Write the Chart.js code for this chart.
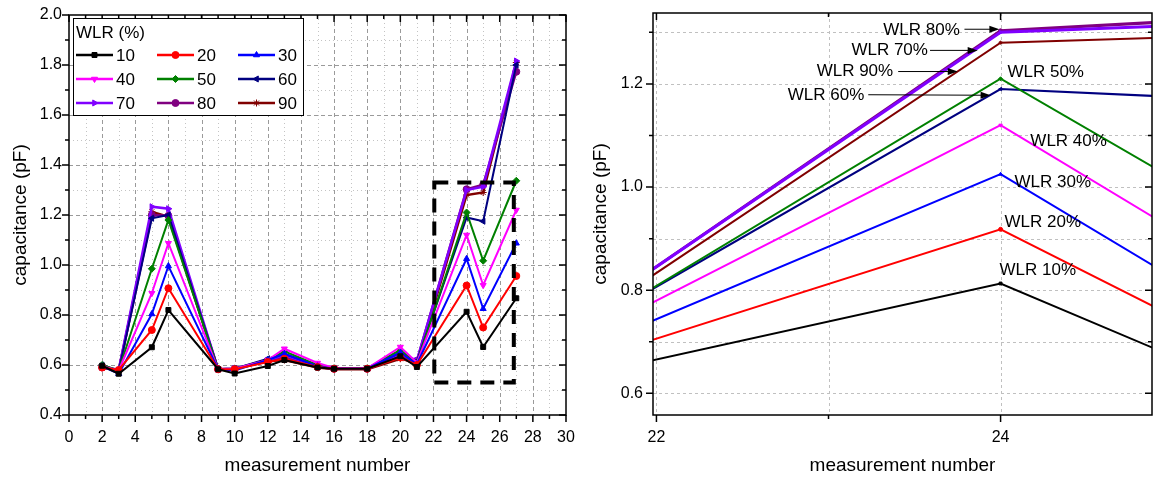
<!DOCTYPE html>
<html>
<head>
<meta charset="utf-8">
<script src="https://cdn.jsdelivr.net/npm/chart.js@4/dist/chart.umd.min.js"></script>
<style>
  body { margin: 0; background: #fff; }
  canvas { position: absolute; top: 0; }
  #left { left: 0; }
  #right { left: 580px; }
</style>
</head>
<body>
<canvas id="left" width="580" height="480"></canvas>
<canvas id="right" width="577" height="480"></canvas>
<script>
// measurement numbers on the x axis
const measurements = [2, 3, 5, 6, 9, 10, 12, 13, 15, 16, 18, 20, 21, 24, 25, 27];

// capacitance (pF) per WLR level
const wlr10 = [0.597, 0.565, 0.671, 0.820, 0.583, 0.566, 0.596, 0.620, 0.590, 0.585, 0.585, 0.635, 0.592, 0.813, 0.672, 0.867];
const wlr20 = [0.590, 0.580, 0.740, 0.907, 0.583, 0.583, 0.612, 0.625, 0.592, 0.585, 0.585, 0.630, 0.600, 0.918, 0.750, 0.956];
const wlr30 = [0.595, 0.565, 0.804, 0.996, 0.583, 0.578, 0.620, 0.645, 0.595, 0.585, 0.585, 0.650, 0.603, 1.025, 0.825, 1.087];
const wlr40 = [0.595, 0.578, 0.887, 1.087, 0.583, 0.585, 0.620, 0.665, 0.608, 0.588, 0.587, 0.672, 0.610, 1.120, 0.919, 1.220];
const wlr50 = [0.600, 0.578, 0.985, 1.180, 0.583, 0.585, 0.620, 0.655, 0.600, 0.587, 0.587, 0.660, 0.608, 1.210, 1.017, 1.337];
const wlr60 = [0.600, 0.575, 1.187, 1.200, 0.583, 0.585, 0.625, 0.645, 0.598, 0.587, 0.587, 0.650, 0.615, 1.190, 1.175, 1.800];
const wlr70 = [0.595, 0.580, 1.233, 1.225, 0.583, 0.585, 0.620, 0.640, 0.597, 0.585, 0.585, 0.645, 0.618, 1.300, 1.313, 1.816];
const wlr80 = [0.590, 0.578, 1.200, 1.197, 0.583, 0.585, 0.615, 0.632, 0.593, 0.585, 0.585, 0.635, 0.617, 1.303, 1.321, 1.773];
const wlr90 = [0.590, 0.578, 1.213, 1.193, 0.583, 0.585, 0.615, 0.620, 0.590, 0.583, 0.583, 0.625, 0.610, 1.280, 1.290, 1.810];

const seriesValues = [wlr10, wlr20, wlr30, wlr40, wlr50, wlr60, wlr70, wlr80, wlr90];
const seriesNames = ['10', '20', '30', '40', '50', '60', '70', '80', '90'];
const seriesColors = ['#000000', '#ff0000', '#0000ff', '#ff00ff', '#008000', '#000080', '#8000ff', '#800080', '#800000'];
const seriesMarkers = ['rect', 'circle', 'triangle', 'triangle', 'rectRot', 'triangle', 'triangle', 'circle', 'star'];
const markerRotation = [0, 0, 0, 180, 0, -90, 90, 0, 0];

// tick labels
const leftXTicks = [0, 2, 4, 6, 8, 10, 12, 14, 16, 18, 20, 22, 24, 26, 28, 30];
const leftYTicks = [0.4, 0.6, 0.8, 1.0, 1.2, 1.4, 1.6, 1.8, 2.0];
const zoomXTicks = [22, 24];
const zoomYTicks = [0.6, 0.8, 1.0, 1.2];

// dashed box marking the zoomed region (data units)
const zoomBox = { x1: 22.05, x2: 26.85, y1: 0.53, y2: 1.33 };

// labels in the zoomed panel (data units, text starts at x)
const zoomLabels = [
  { text: 'WLR 80%', x: 23.318, y: 1.304 },
  { text: 'WLR 70%', x: 23.133, y: 1.266 },
  { text: 'WLR 90%', x: 22.931, y: 1.224 },
  { text: 'WLR 60%', x: 22.763, y: 1.177 },
  { text: 'WLR 50%', x: 24.040, y: 1.222 },
  { text: 'WLR 40%', x: 24.173, y: 1.088 },
  { text: 'WLR 30%', x: 24.081, y: 1.010 },
  { text: 'WLR 20%', x: 24.023, y: 0.932 },
  { text: 'WLR 10%', x: 23.994, y: 0.838 }
];
const zoomArrows = [
  { x1: 23.790, y1: 1.306, x2: 23.993, y2: 1.306 },
  { x1: 23.590, y1: 1.265, x2: 23.867, y2: 1.265 },
  { x1: 23.405, y1: 1.224, x2: 23.751, y2: 1.224 },
  { x1: 23.231, y1: 1.179, x2: 23.942, y2: 1.178 }
];

const FONT = '"Liberation Sans", Arial, sans-serif';
Chart.defaults.font.family = FONT;
Chart.defaults.color = '#000';
Chart.defaults.animation = false;

function makeDatasets(lineWidths, radius) {
  return seriesValues.map((vals, i) => ({
    label: seriesNames[i],
    data: measurements.map((m, j) => ({ x: m, y: vals[j] })),
    borderColor: seriesColors[i],
    backgroundColor: seriesColors[i],
    pointBackgroundColor: seriesColors[i],
    pointBorderColor: seriesColors[i],
    borderWidth: lineWidths[i],
    pointStyle: seriesMarkers[i],
    rotation: markerRotation[i],
    pointRadius: radius,
    pointBorderWidth: 1,
    tension: 0
  }));
}

function range(a, b, step) {
  const out = [];
  for (let v = a; v <= b + 1e-9; v += step) out.push(Math.round(v * 1000) / 1000);
  return out;
}

// gridlines, frame and ticks on all four sides
const framePlugin = {
  id: 'frame',
  beforeDatasetsDraw(chart, args, o) {
    const { ctx, chartArea: a, scales: { x, y } } = chart;
    ctx.save();
    ctx.lineWidth = 1;
    const vline = v => { const p = Math.round(x.getPixelForValue(v)) + 0.5; ctx.beginPath(); ctx.moveTo(p, a.top); ctx.lineTo(p, a.bottom); ctx.stroke(); };
    const hline = v => { const p = Math.round(y.getPixelForValue(v)) + 0.5; ctx.beginPath(); ctx.moveTo(a.left, p); ctx.lineTo(a.right, p); ctx.stroke(); };
    ctx.strokeStyle = o.minorColor; ctx.setLineDash([1, 3]);
    o.xMinorGrid.forEach(vline); o.yMinorGrid.forEach(hline);
    ctx.strokeStyle = o.majorColor; ctx.setLineDash(o.majorDash);
    o.xMajorGrid.forEach(vline); o.yMajorGrid.forEach(hline);
    ctx.restore();
  },
  afterDatasetsDraw(chart, args, o) {
    const { ctx, chartArea: a, scales: { x, y } } = chart;
    ctx.save();
    ctx.strokeStyle = '#000';
    ctx.lineWidth = 1.5;
    ctx.strokeRect(a.left, a.top, a.right - a.left, a.bottom - a.top);
    const tick = (vals, len) => {
      vals.forEach(v => {
        const p = x.getPixelForValue(v);
        if (p < a.left - 1 || p > a.right + 1) return;
        ctx.beginPath(); ctx.moveTo(p, a.bottom); ctx.lineTo(p, a.bottom + len);
        ctx.moveTo(p, a.top); ctx.lineTo(p, a.top + len); ctx.stroke();
      });
    };
    const ytick = (vals, len) => {
      vals.forEach(v => {
        const p = y.getPixelForValue(v);
        if (p < a.top - 1 || p > a.bottom + 1) return;
        ctx.beginPath(); ctx.moveTo(a.left, p); ctx.lineTo(a.left - len, p);
        ctx.moveTo(a.right, p); ctx.lineTo(a.right - len, p); ctx.stroke();
      });
    };
    tick(o.xMajor, 7); tick(o.xMinor, 4);
    ytick(o.yMajor, 7); ytick(o.yMinor, 4);
    ctx.restore();
  }
};

const boxPlugin = {
  id: 'zoomBox',
  afterDatasetsDraw(chart) {
    const { ctx, scales: { x, y } } = chart;
    const l = x.getPixelForValue(zoomBox.x1), r = x.getPixelForValue(zoomBox.x2);
    const t = y.getPixelForValue(zoomBox.y2), b = y.getPixelForValue(zoomBox.y1);
    ctx.save();
    ctx.strokeStyle = '#000';
    ctx.lineWidth = 4;
    ctx.setLineDash([14, 9]);
    ctx.strokeRect(l, t, r - l, b - t);
    ctx.restore();
  }
};

const legendPlugin = {
  id: 'wlrLegend',
  afterDraw(chart) {
    const { ctx, chartArea: a } = chart;
    const x0 = a.left + 4, y0 = a.top + 3;
    ctx.save();
    ctx.fillStyle = '#fff';
    ctx.fillRect(x0, y0, 230, 97);
    ctx.strokeStyle = '#000';
    ctx.lineWidth = 1;
    ctx.strokeRect(x0 + 0.5, y0 + 0.5, 230, 97);
    ctx.font = '17px ' + FONT;
    ctx.fillStyle = '#000';
    ctx.textBaseline = 'middle';
    ctx.fillText('WLR (%)', x0 + 3, y0 + 15);
    chart.data.datasets.forEach((ds, i) => {
      const col = i % 3, row = Math.floor(i / 3);
      const lx = x0 + 3 + col * 81, ly = y0 + 37 + row * 24;
      ctx.strokeStyle = ds.borderColor;
      ctx.fillStyle = ds.borderColor;
      ctx.lineWidth = 2.5;
      ctx.setLineDash([]);
      ctx.beginPath(); ctx.moveTo(lx, ly); ctx.lineTo(lx + 37, ly); ctx.stroke();
      ctx.lineWidth = 1;
      Chart.helpers.drawPoint(ctx, { pointStyle: ds.pointStyle, rotation: ds.rotation, radius: 3.5, borderWidth: 1 }, lx + 18.5, ly);
      ctx.fillStyle = '#000';
      ctx.fillText(ds.label, lx + 40, ly + 1);
    });
    ctx.restore();
  }
};

const labelPlugin = {
  id: 'zoomLabels',
  afterDatasetsDraw(chart) {
    const { ctx, scales: { x, y } } = chart;
    ctx.save();
    ctx.font = '17px ' + FONT;
    ctx.fillStyle = '#000';
    ctx.textBaseline = 'middle';
    zoomLabels.forEach(l => ctx.fillText(l.text, x.getPixelForValue(l.x), y.getPixelForValue(l.y)));
    ctx.strokeStyle = '#000';
    ctx.lineWidth = 1;
    zoomArrows.forEach(ar => {
      const x1 = x.getPixelForValue(ar.x1), y1 = y.getPixelForValue(ar.y1);
      const x2 = x.getPixelForValue(ar.x2), y2 = y.getPixelForValue(ar.y2);
      const ang = Math.atan2(y2 - y1, x2 - x1);
      ctx.beginPath(); ctx.moveTo(x1, y1); ctx.lineTo(x2 - 8 * Math.cos(ang), y2 - 8 * Math.sin(ang)); ctx.stroke();
      ctx.beginPath();
      ctx.moveTo(x2, y2);
      ctx.lineTo(x2 - 10 * Math.cos(ang) + 3.5 * Math.sin(ang), y2 - 10 * Math.sin(ang) - 3.5 * Math.cos(ang));
      ctx.lineTo(x2 - 10 * Math.cos(ang) - 3.5 * Math.sin(ang), y2 - 10 * Math.sin(ang) + 3.5 * Math.cos(ang));
      ctx.closePath(); ctx.fill();
    });
    ctx.restore();
  }
};

function axisX(min, max, ticks, height) {
  return {
    type: 'linear', min, max,
    afterBuildTicks: s => { s.ticks = ticks.map(v => ({ value: v })); },
    afterFit: s => { s.height = height; s.paddingLeft = 0; s.paddingRight = 0; },
    grid: { display: false, drawTicks: false },
    border: { display: false },
    ticks: { font: { size: 16 }, padding: 13, maxRotation: 0, autoSkip: false, callback: v => String(v) },
    title: { display: true, text: 'measurement number', font: { size: 19 }, padding: { top: 0, bottom: 3 } }
  };
}

function axisY(min, max, ticks, width, pad) {
  return {
    type: 'linear', min, max,
    afterBuildTicks: s => { s.ticks = ticks.map(v => ({ value: v })); },
    afterFit: s => { s.width = width; s.paddingTop = 0; s.paddingBottom = 0; },
    grid: { display: false, drawTicks: false },
    border: { display: false },
    ticks: { font: { size: 16 }, padding: pad, callback: v => v.toFixed(1) },
    title: { display: true, text: 'capacitance (pF)', font: { size: 19 }, padding: { top: 9, bottom: 0 } }
  };
}

new Chart(document.getElementById('left'), {
  type: 'line',
  data: { datasets: makeDatasets([2, 2, 2, 2, 2, 2, 2.5, 2.5, 2.5], 3.5) },
  options: {
    responsive: false,
    devicePixelRatio: 1,
    layout: { padding: { left: 0, top: 15, right: 14, bottom: 0 } },
    plugins: {
      legend: { display: false },
      tooltip: { enabled: false },
      frame: {
        xMajor: leftXTicks, xMinor: range(1, 29, 2),
        yMajor: leftYTicks, yMinor: range(0.5, 1.9, 0.2),
        xMajorGrid: range(2, 28, 2), xMinorGrid: range(1, 29, 2),
        yMajorGrid: range(0.6, 1.8, 0.2), yMinorGrid: range(0.5, 1.9, 0.2),
        majorColor: '#9a9a9a', minorColor: '#c4c4c4', majorDash: [4, 3]
      }
    },
    scales: {
      x: axisX(0, 30, leftXTicks, 65),
      y: axisY(0.4, 2.0, leftYTicks, 69, 7)
    }
  },
  plugins: [framePlugin, boxPlugin, legendPlugin]
});

new Chart(document.getElementById('right'), {
  type: 'line',
  data: { datasets: makeDatasets([2, 2, 2, 2, 2, 2, 3, 3, 2], 2) },
  options: {
    responsive: false,
    devicePixelRatio: 1,
    layout: { padding: { left: 0, top: 13, right: 4, bottom: 0 } },
    plugins: {
      legend: { display: false },
      tooltip: { enabled: false },
      frame: {
        xMajor: zoomXTicks, xMinor: [23],
        yMajor: zoomYTicks, yMinor: [0.7, 0.9, 1.1, 1.3],
        xMajorGrid: [22, 23, 24], xMinorGrid: [],
        yMajorGrid: [0.6, 0.7, 0.8, 0.9, 1.0, 1.1, 1.2, 1.3], yMinorGrid: [],
        majorColor: '#c0c0c0', minorColor: '#c0c0c0', majorDash: [3, 3]
      }
    },
    scales: {
      x: axisX(21.98, 24.88, zoomXTicks, 65),
      y: axisY(0.558, 1.3375, zoomYTicks, 73, 10)
    }
  },
  plugins: [framePlugin, labelPlugin]
});
</script>
</body>
</html>
